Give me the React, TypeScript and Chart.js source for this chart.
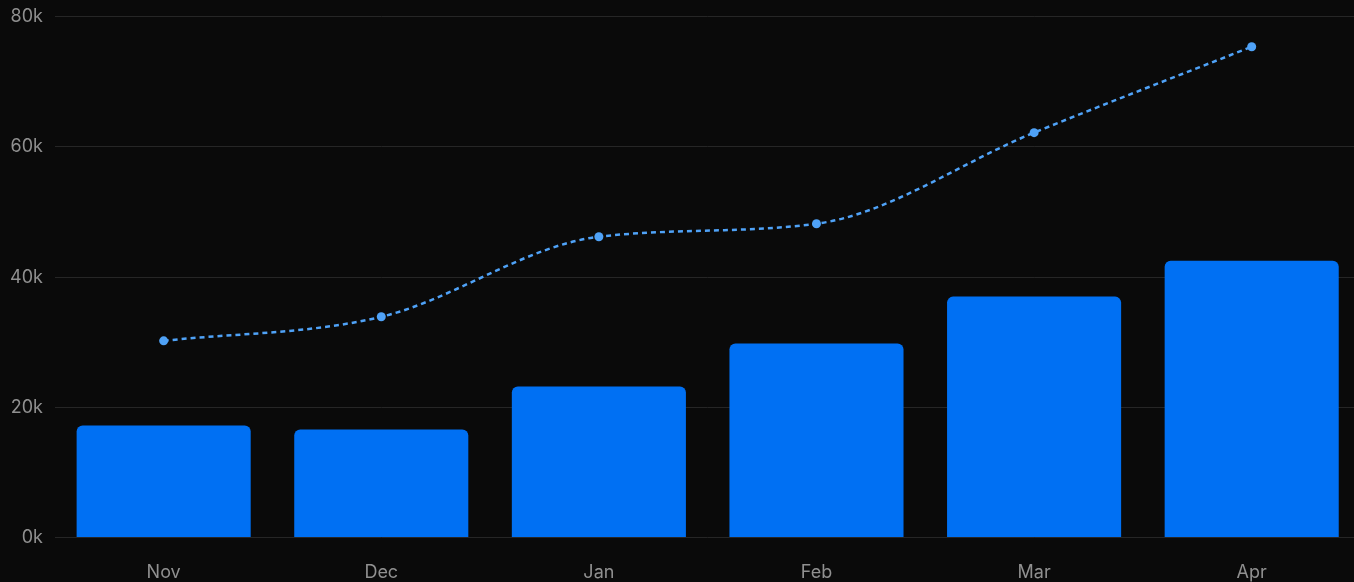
import React, { useEffect, useRef } from "react";
import { Chart, registerables } from "chart.js";

Chart.register(...registerables);

const categories = ["Nov", "Dec", "Jan", "Feb", "Mar", "Apr"];
const barValues = [17200, 16600, 23200, 29800, 37000, 42500];
const lineValues = [30200, 33900, 46200, 48200, 62200, 75400];

export default function App() {
  const ref = useRef<HTMLCanvasElement>(null);
  useEffect(() => {
    document.body.style.margin = "0";
    document.body.style.background = "#0a0a0a";
    const chart = new Chart(ref.current!, {
      type: "bar",
      data: {
        labels: categories,
        datasets: [
          {
            type: "line",
            data: lineValues,
            borderColor: "#4fa2f7",
            backgroundColor: "#4fa2f7",
            borderWidth: 2.5,
            borderDash: [5, 4],
            cubicInterpolationMode: "monotone",
            pointRadius: 4.5,
            pointBorderWidth: 0,
            order: 0,
          } as any,
          {
            type: "bar",
            data: barValues,
            backgroundColor: "#0070f3",
            borderRadius: 6,
            borderSkipped: "bottom",
            barPercentage: 0.8,
            categoryPercentage: 1,
            order: 1,
          },
        ],
      },
      options: {
        animation: false,
        responsive: false,
        maintainAspectRatio: false,
        layout: { padding: { left: 0, right: 0, top: 0, bottom: -23 } },
        plugins: { legend: { display: false }, tooltip: { enabled: false } },
        scales: {
          x: {
            grid: { display: false, drawTicks: false },
            border: { display: false },
            ticks: { color: "#909090", font: { family: "Inter", size: 18 }, padding: 24 },
          },
          y: {
            min: 0,
            max: 80000,
            grid: { color: "#262626", drawTicks: false },
            border: { display: false },
            ticks: {
              stepSize: 20000,
              color: "#909090",
              font: { family: "Inter", size: 18 },
              padding: 12,
              callback: (v: any) => `${Number(v) / 1000}k`,
            },
          },
        },
      },
    });
    return () => chart.destroy();
  }, []);
  return (
    <div style={{ width: 1354, height: 582, background: "#0a0a0a", overflow: "hidden", position: "relative" }}>
      <canvas
        ref={ref}
        width={1367}
        height={590}
        style={{ display: "block", position: "absolute", left: -2, top: -6 }}
      />
    </div>
  );
}
